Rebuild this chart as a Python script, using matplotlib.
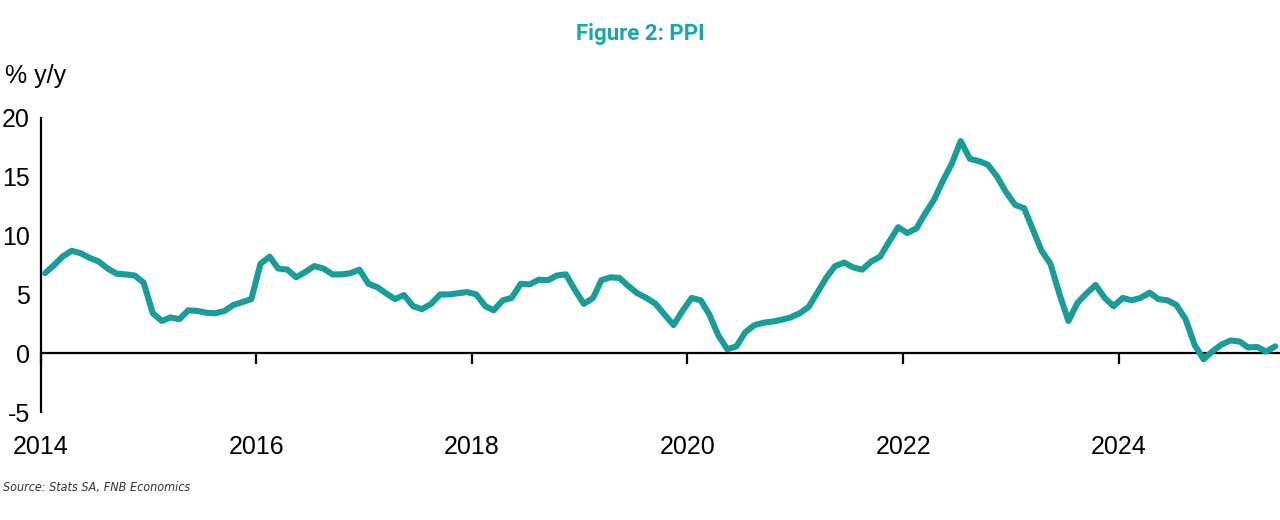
import numpy as np
import pandas as pd
import matplotlib
matplotlib.use('Agg')
import matplotlib.pyplot as plt

# PPI % y/y, monthly from Jan 2014 to Jun 2025
ppi = [6.8, 7.5, 8.2, 8.7, 8.5, 8.1, 7.8, 7.2, 6.75, 6.7, 6.6, 6.0,      # 2014
       3.4, 2.75, 3.05, 2.9, 3.65, 3.6, 3.45, 3.4, 3.6, 4.1, 4.35, 4.6,  # 2015
       7.6, 8.2, 7.2, 7.1, 6.45, 6.9, 7.4, 7.2, 6.7, 6.7, 6.8, 7.1,      # 2016
       5.9, 5.6, 5.1, 4.6, 4.95, 4.0, 3.75, 4.2, 5.0, 5.0, 5.1, 5.2,     # 2017
       5.0, 4.0, 3.65, 4.5, 4.7, 5.9, 5.85, 6.25, 6.2, 6.6, 6.7, 5.4,    # 2018
       4.2, 4.7, 6.2, 6.45, 6.4, 5.7, 5.1, 4.7, 4.2, 3.3, 2.4, 3.6,      # 2019
       4.7, 4.5, 3.3, 1.5, 0.35, 0.6, 1.8, 2.4, 2.6, 2.7, 2.85, 3.05,    # 2020
       3.4, 3.95, 5.1, 6.4, 7.4, 7.7, 7.3, 7.1, 7.8, 8.2, 9.5, 10.7,     # 2021
       10.2, 10.6, 11.8, 13.0, 14.6, 16.1, 18.0, 16.5, 16.3, 16.0, 15.0, 13.7,  # 2022
       12.6, 12.3, 10.6, 8.7, 7.6, 5.0, 2.75, 4.3, 5.1, 5.8, 4.7, 4.0,   # 2023
       4.7, 4.5, 4.7, 5.15, 4.6, 4.5, 4.1, 2.9, 0.7, -0.5, 0.2, 0.75,    # 2024
       1.1, 1.0, 0.5, 0.55, 0.15, 0.6]                                    # 2025

# points sit in the middle of each month slot (Excel date axis style)
dates = pd.date_range('2014-01-01', periods=len(ppi), freq='MS') + pd.Timedelta(days=14)

tick_years = [2014, 2016, 2018, 2020, 2022, 2024]
y_ticks = [-5, 0, 5, 10, 15, 20]

teal = '#189d99'
title_teal = '#1ba7a7'

fig = plt.figure(figsize=(12.8, 5.2), dpi=100)
ax = fig.add_axes([0.032, 0.207, 0.968, 0.567])

ax.plot(dates, ppi, color=teal, lw=4.4, solid_joinstyle='round',
        solid_capstyle='round', clip_on=False, zorder=3)

ax.set_xlim(pd.Timestamp('2014-01-01'), pd.Timestamp('2025-07-01'))
ax.set_ylim(-5, 20)

# spines: left one, and the x axis line sitting at zero
ax.spines['top'].set_visible(False)
ax.spines['right'].set_visible(False)
ax.spines['left'].set_linewidth(1.6)
ax.spines['bottom'].set_position(('data', 0))
ax.spines['bottom'].set_linewidth(1.6)

xt = [pd.Timestamp(str(y) + '-01-01') for y in tick_years]
ax.set_xticks(xt)
ax.tick_params(axis='x', direction='out', length=8, width=1.6, labelbottom=False)
ax.set_yticks(y_ticks)
ax.set_yticklabels([str(v) for v in y_ticks])
ax.tick_params(axis='y', length=0, pad=8, labelsize=18)
for lab in ax.get_yticklabels():
    lab.set_fontfamily('Liberation Sans')

# year labels down at the bottom of the plot
sec = ax.secondary_xaxis('bottom')
sec.spines['bottom'].set_visible(False)
sec.set_xticks(xt)
sec.set_xticklabels([str(y) for y in tick_years])
sec.tick_params(axis='x', length=0, pad=16, labelsize=18)
for lab in sec.get_xticklabels():
    lab.set_fontfamily('Liberation Sans')

fig.text(0.5, 0.935, 'Figure 2: PPI', ha='center', va='center', color=title_teal,
         fontsize=16, fontweight='bold', family=['Roboto', 'DejaVu Sans'])
fig.text(0.004, 0.854, '% y/y', ha='left', va='center', fontsize=18,
         family='Liberation Sans')
fig.text(0.002, 0.063, 'Source: Stats SA, FNB Economics', ha='left', va='center',
         fontsize=9, style='italic', color='#333333', fontstretch='condensed',
         family=['DejaVu Sans', 'Roboto'])

plt.savefig('out.png', dpi=100)
